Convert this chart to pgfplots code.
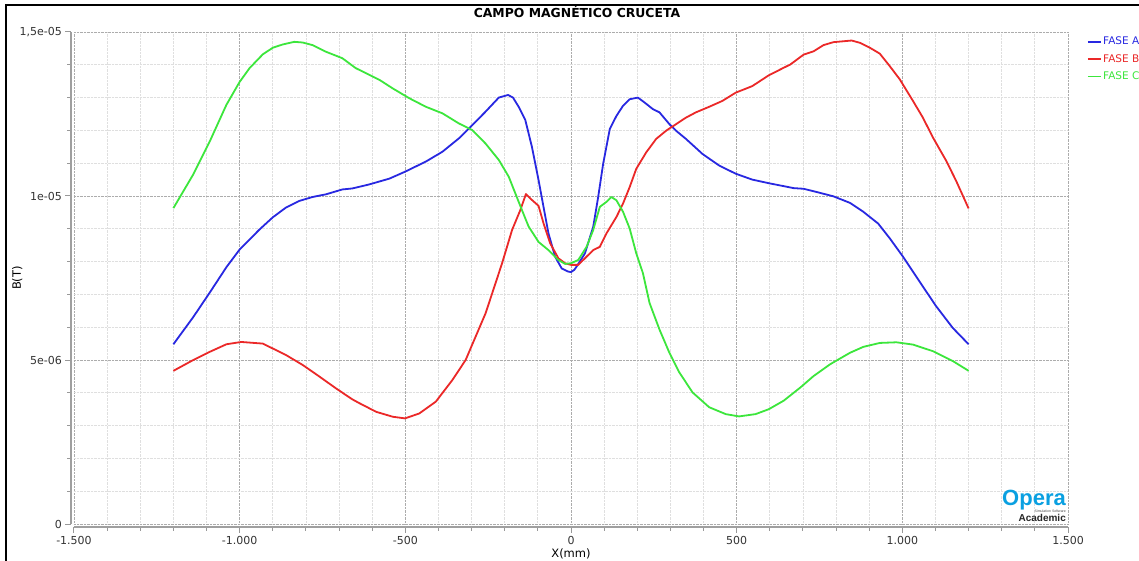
\documentclass[border=0pt]{standalone}
\usepackage{pgfplots}
\pgfplotsset{compat=1.18}
\usepackage{pgfplotstable}
\usepackage{fontspec}
\setmainfont{DejaVu Sans}
\newfontfamily\logofont{Liberation Sans}
\definecolor{faseA}{RGB}{40,40,225}
\definecolor{faseB}{RGB}{235,40,40}
\definecolor{faseC}{RGB}{60,230,60}
\definecolor{operablue}{RGB}{10,160,225}

\pgfplotstableread{
x y
-1200 5.48e-6
-1140 6.31e-6
-1090 7.06e-6
-1040 7.83e-6
-1000 8.37e-6
-940 8.98e-6
-900 9.35e-6
-860 9.65e-6
-820 9.85e-6
-780 9.97e-6
-740 10.05e-6
-690 10.20e-6
-660 10.23e-6
-610 10.35e-6
-548 10.53e-6
-501 10.74e-6
-438 11.05e-6
-388 11.35e-6
-338 11.76e-6
-298 12.16e-6
-258 12.57e-6
-218 13.00e-6
-190 13.08e-6
-175 13.00e-6
-158 12.72e-6
-138 12.32e-6
-118 11.50e-6
-98 10.49e-6
-83 9.67e-6
-68 8.86e-6
-48 8.15e-6
-28 7.79e-6
-10 7.70e-6
0 7.68e-6
10 7.75e-6
17 7.85e-6
42 8.25e-6
67 9.06e-6
82 9.97e-6
97 10.98e-6
117 12.04e-6
137 12.44e-6
157 12.75e-6
177 12.95e-6
202 13.00e-6
222 12.85e-6
247 12.65e-6
267 12.55e-6
297 12.19e-6
317 11.99e-6
347 11.74e-6
397 11.28e-6
447 10.93e-6
497 10.68e-6
547 10.50e-6
597 10.39e-6
642 10.30e-6
672 10.24e-6
702 10.22e-6
742 10.12e-6
792 9.99e-6
842 9.79e-6
882 9.52e-6
927 9.16e-6
962 8.71e-6
1002 8.15e-6
1052 7.39e-6
1102 6.64e-6
1152 5.98e-6
1200 5.48e-6
}\faseAtable

\pgfplotstableread{
x y
-1200 4.67e-6
-1140 5.00e-6
-1090 5.25e-6
-1040 5.48e-6
-995 5.55e-6
-930 5.50e-6
-900 5.35e-6
-860 5.15e-6
-810 4.85e-6
-760 4.50e-6
-710 4.14e-6
-660 3.80e-6
-638 3.68e-6
-588 3.42e-6
-538 3.27e-6
-501 3.22e-6
-458 3.37e-6
-408 3.73e-6
-358 4.39e-6
-318 5.00e-6
-288 5.71e-6
-258 6.42e-6
-238 7.03e-6
-208 7.95e-6
-178 8.96e-6
-153 9.57e-6
-136 10.06e-6
-118 9.88e-6
-98 9.70e-6
-83 9.17e-6
-63 8.56e-6
-38 8.10e-6
-18 7.95e-6
0 7.90e-6
22 7.90e-6
47 8.15e-6
67 8.35e-6
87 8.45e-6
107 8.86e-6
137 9.36e-6
157 9.77e-6
177 10.27e-6
197 10.83e-6
227 11.33e-6
257 11.74e-6
287 11.99e-6
317 12.19e-6
347 12.39e-6
377 12.55e-6
417 12.72e-6
457 12.90e-6
497 13.15e-6
547 13.35e-6
597 13.68e-6
640 13.90e-6
662 14.01e-6
702 14.31e-6
732 14.41e-6
762 14.60e-6
792 14.69e-6
847 14.74e-6
872 14.67e-6
902 14.52e-6
932 14.34e-6
962 13.96e-6
992 13.56e-6
1032 12.90e-6
1062 12.39e-6
1092 11.79e-6
1132 11.08e-6
1162 10.47e-6
1200 9.62e-6
}\faseBtable

\pgfplotstableread{
x y
-1200 9.63e-6
-1140 10.66e-6
-1090 11.67e-6
-1040 12.78e-6
-1000 13.48e-6
-970 13.90e-6
-930 14.32e-6
-900 14.52e-6
-870 14.62e-6
-835 14.70e-6
-810 14.68e-6
-780 14.60e-6
-740 14.40e-6
-690 14.20e-6
-650 13.90e-6
-610 13.70e-6
-578 13.54e-6
-538 13.28e-6
-488 12.98e-6
-438 12.72e-6
-388 12.52e-6
-338 12.21e-6
-298 12.01e-6
-258 11.60e-6
-218 11.10e-6
-188 10.59e-6
-168 10.08e-6
-148 9.57e-6
-128 9.07e-6
-98 8.60e-6
-68 8.35e-6
-38 8.05e-6
-18 7.93e-6
0 7.95e-6
22 8.05e-6
47 8.45e-6
67 8.96e-6
87 9.67e-6
107 9.82e-6
122 9.97e-6
137 9.87e-6
157 9.52e-6
177 9.01e-6
197 8.25e-6
217 7.65e-6
237 6.74e-6
267 5.93e-6
297 5.22e-6
327 4.62e-6
367 4.01e-6
417 3.56e-6
467 3.35e-6
507 3.28e-6
557 3.35e-6
597 3.50e-6
642 3.76e-6
692 4.16e-6
732 4.51e-6
782 4.87e-6
842 5.22e-6
882 5.40e-6
932 5.52e-6
982 5.54e-6
1032 5.47e-6
1092 5.27e-6
1152 4.97e-6
1200 4.67e-6
}\faseCtable

\begin{document}
\begin{tikzpicture}[x=1pt,y=1pt]
\useasboundingbox (0,0) rectangle (1139,560);
\clip (0,0) rectangle (1139,560);
\fill[white] (0,0) rectangle (1139,560);
\draw[black, line width=2.5pt] (6,-20) -- (6,555) -- (1160,555);
\begin{axis}[
  at={(74pt,36pt)}, anchor=south west,
  scale only axis, width=994pt, height=492pt,
  xmin=-1500, xmax=1500, ymin=0, ymax=1.5e-5,
  axis lines=left,
  separate axis lines,
  axis x line shift=2.5pt,
  axis y line shift=2.5pt,
  axis line style={-, draw=gray!75, line width=2pt},
  xtick={-1500,-1000,-500,0,500,1000,1500},
  xticklabels={-1.500,-1.000,-500,0,500,1.000,1.500},
  ytick={0,5e-6,1e-5,1.5e-5},
  yticklabels={0,5e-06,1e-05,{1,5e-05}},
  scaled y ticks=false, scaled x ticks=false,
  minor x tick num=4, minor y tick num=4,
  grid=both,
  major grid style={densely dotted, draw=gray!65, line width=0.8pt},
  minor grid style={densely dotted, draw=gray!25, line width=0.8pt},
  tick align=outside,
  major tick length=6pt, minor tick length=4pt,
  tick style={draw=gray!80, line width=1pt},
  ticklabel style={font=\fontsize{11}{13}\selectfont, text=black!80},
  title={CAMPO MAGNÉTICO CRUCETA},
  title style={at={(axis description cs:0.506,1.037)}, anchor=center, yshift=-4pt,
    font=\bfseries\fontsize{12.4}{14}\selectfont},
  xlabel={X(mm)},
  xlabel style={at={(axis description cs:0.5,-0.061)}, anchor=center,
    font=\fontsize{11.5}{13}\selectfont},
  ylabel={B(T)},
  ylabel style={at={(axis description cs:-0.057,0.5)}, anchor=center,
    font=\fontsize{11.5}{13}\selectfont},
  legend style={draw=none, fill=none, at={(axis description cs:1.019,0.993)},
    anchor=north west, inner sep=0pt, row sep=5pt,
    font=\fontsize{10.5}{12}\selectfont,
    nodes={inner sep=1.5pt}},
  legend cell align=left,
  legend image code/.code={\draw[#1, line width=1.6pt] (0pt,0pt) -- (13pt,0pt);},
]
\addplot[faseA, line width=1.8pt, line join=round] table {\faseAtable};
\addlegendentry{\textcolor{faseA}{FASE A}}
\addplot[faseB, line width=1.8pt, line join=round] table {\faseBtable};
\addlegendentry{\textcolor{faseB}{FASE B}}
\addplot[faseC, line width=1.8pt, line join=round] table {\faseCtable};
\addlegendentry{\textcolor{faseC}{FASE C}}
\node[anchor=base east, inner sep=0pt, text=operablue,
  font=\logofont\bfseries\fontsize{22}{22}\selectfont] at (rel axis cs:0.998,0.038) {Opera};
\node[anchor=base east, inner sep=0pt, text=black!70,
  font=\logofont\fontsize{3.5}{4}\selectfont] at (rel axis cs:0.998,0.024) {Simulation Software};
\node[anchor=base east, inner sep=0pt, text=black!85,
  font=\logofont\bfseries\fontsize{10}{11}\selectfont] at (rel axis cs:0.998,0.005) {Academic};
\end{axis}
\end{tikzpicture}
\end{document}
